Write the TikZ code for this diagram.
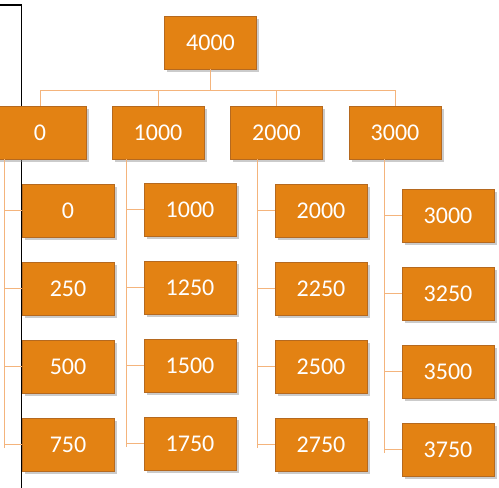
\documentclass[tikz,border=0pt]{standalone}
\usepackage{fontspec}
\setmainfont{Carlito}
\usepackage{tikz}
\usetikzlibrary{shadows, calc}

\definecolor{boxfill}{HTML}{E38213}
\definecolor{boxline}{HTML}{B5691F}
\definecolor{linkcol}{HTML}{F4B47C}

\begin{document}
\begin{tikzpicture}[
  x=1pt, y=-1pt,
  box/.style={rectangle, draw=boxline, fill=boxfill, line width=0.9pt,
              minimum width=92pt, minimum height=53pt, inner sep=0pt,
              text=white, font=\fontsize{24}{28}\selectfont,
              drop shadow={shadow xshift=2.5pt, shadow yshift=-2.5pt,
                           fill=black!45, opacity=0.45}},
  link/.style={draw=linkcol, line width=1pt},
  frame/.style={draw=black, line width=1.2pt}
]
\useasboundingbox (0,0) rectangle (499,488);
% black frame edge behind the chart
\draw[frame] (0,5) -- (21.5,5) -- (21.5,490);

\node[box] (root) at (210.5,42.5) {4000};
\node[box] (n0) at (40,132.5)    {0};
\node[box] (n1) at (158,132.5)   {1000};
\node[box] (n2) at (276.5,132.5) {2000};
\node[box] (n3) at (395,132.5)   {3000};

\coordinate (bus) at (210.5,90);
\draw[link] (root.south) -- (root.south |- bus);
\draw[link] (n0.north) -- (n0.north |- bus) -- (n3.north |- bus) -- (n3.north);
\draw[link] (n1.north) -- (n1.north |- bus);
\draw[link] (n2.north) -- (n2.north |- bus);

% second level, four per column
\foreach \col/\x/\y/\base in {0/68/210.5/0, 1/190/209.5/1000,
                              2/321/210.5/2000, 3/448/215.5/3000} {
  \foreach \r in {0,...,3} {
    \pgfmathtruncatemacro\val{\base+250*\r}
    \node[box] (c\col\r) at (\x,\y+78*\r) {\val};
  }
}

\foreach \col in {0,...,3} {
  \coordinate (s\col) at ([xshift=-17pt]c\col0.west);
  \draw[link] (n\col.south -| s\col) -- ([yshift=-3pt]s\col |- c\col3.west);
  \foreach \r in {0,...,3}
    \draw[link] (s\col |- c\col\r.west) -- (c\col\r.west);
}
\end{tikzpicture}
\end{document}
